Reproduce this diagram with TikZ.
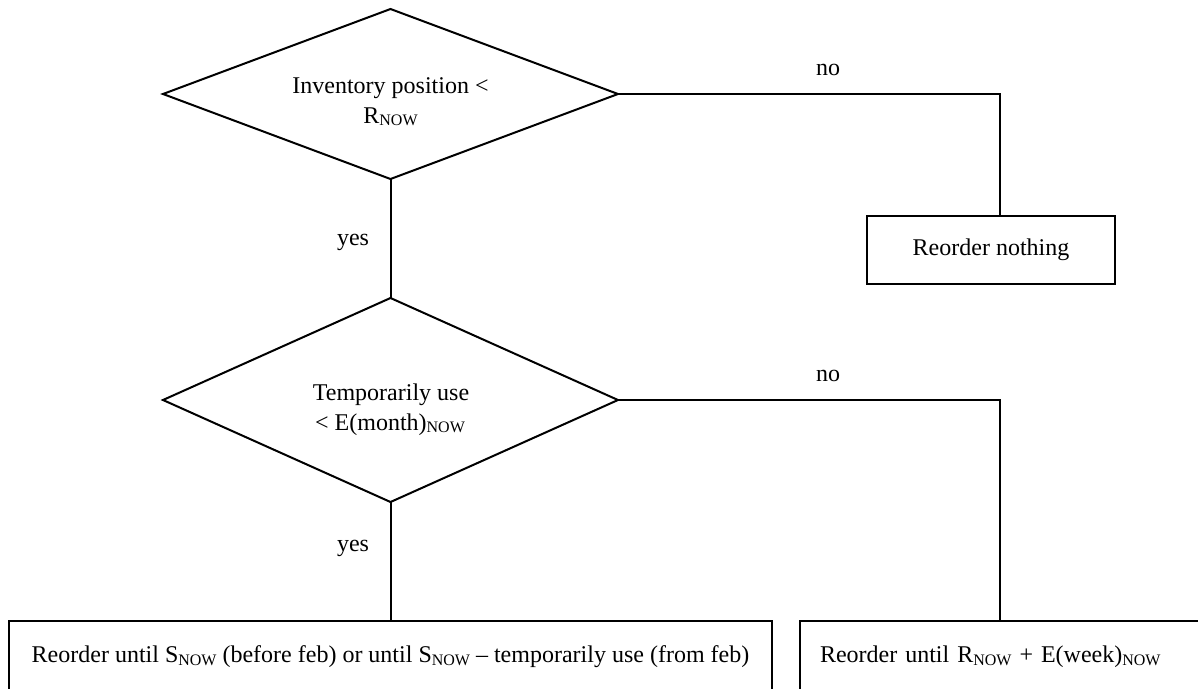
\documentclass[tikz,border=0pt]{standalone}
\usepackage{fontspec}
\setmainfont{Liberation Serif}
\usetikzlibrary{shapes.geometric,calc}
\newcommand\lowsub[1]{\raisebox{-2.5pt}{\fontsize{16}{16}\selectfont #1}}
\begin{document}
\begin{tikzpicture}[x=1pt,y=-1pt,
  every node/.style={font=\fontsize{24}{30}\selectfont},
  decision/.style={draw, line width=2pt, shape=diamond, inner sep=0pt, outer sep=0pt},
  action/.style={draw, line width=2pt, rectangle, inner sep=0pt, outer sep=0pt},
  lab/.style={anchor=base, inner sep=0pt},
  conn/.style={line width=2pt}]
\useasboundingbox (0,0) rectangle (1198,688);
\clip (0,0) rectangle (1198,688);
% decisions
\node[decision, minimum width=455, minimum height=170] (d1) at (390.5,94) {};
\node[lab] (d1a) at (390.5,93) {Inventory position <};
\node[lab] (d1b) at (390.5,123) {R\lowsub{NOW}};
\node[decision, minimum width=455, minimum height=204] (d2) at (390.5,400) {};
\node[lab] (d2a) at (391,400) {Temporarily use};
\node[lab] (d2b) at (390,430) {< E(month)\lowsub{NOW}};
% actions
\node[action, minimum width=248, minimum height=68.4] (rn) at (991,250) {Reorder nothing};
\node[action, minimum width=763, minimum height=72] (b3) at (390.5,657)
  {Reorder until S\lowsub{NOW} (before feb) or until S\lowsub{NOW} – temporarily use (from feb)};
\node[action, text width=390, align=left, inner xsep=20, minimum height=72, anchor=west] (b4) at (800,657)
  {Reorder until R\lowsub{NOW} + E(week)\lowsub{NOW}};
% connectors
\coordinate (k) at (1000,0);
\draw[conn] (d1.east) -| (k |- rn.north);
\draw[conn] (d1.south) -- (d2.north);
\draw[conn] (d2.east) -| (k |- b4.north);
\draw[conn] (d2.south) -- (b3.north);
% labels
\node[lab] (no1) at (828,75.5) {no};
\node[lab] (no2) at (828,381.7) {no};
\node[lab] (yes1) at (353,245) {yes};
\node[lab] (yes2) at (353,551.7) {yes};
\end{tikzpicture}
\end{document}
